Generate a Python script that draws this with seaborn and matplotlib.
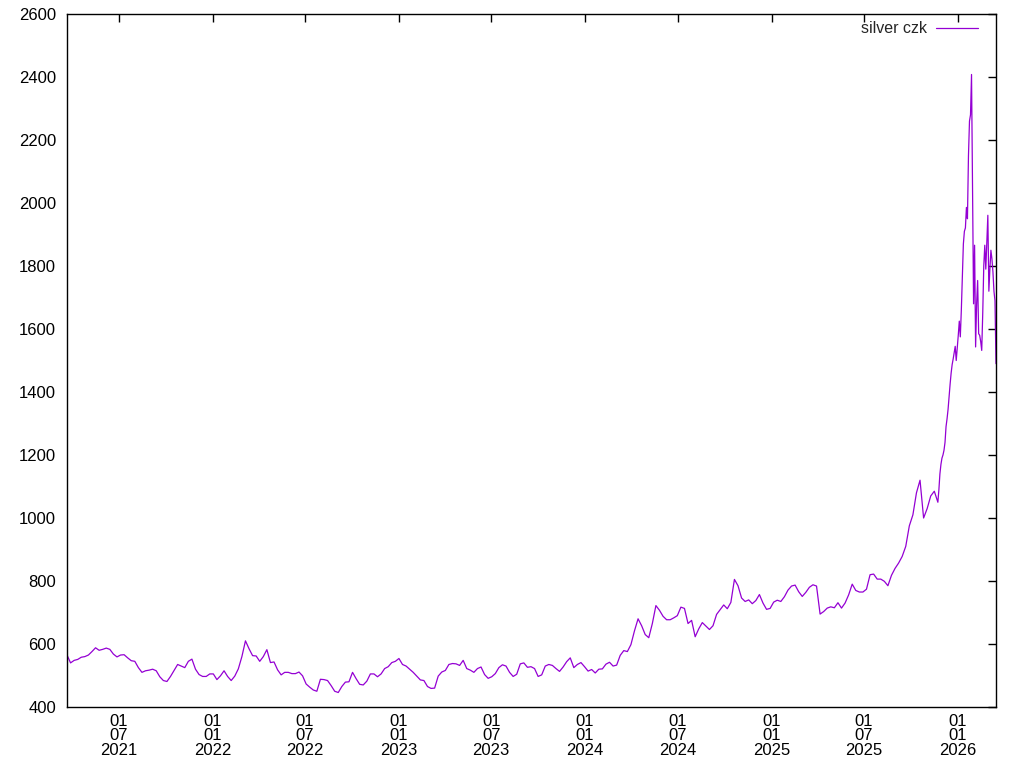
import numpy as np
import pandas as pd
import matplotlib
matplotlib.use('Agg')
import matplotlib.pyplot as plt
import matplotlib.dates as mdates
import seaborn as sns

series_label = 'silver czk'
weekly_start = '2021-03-21'
weekly_values = [
    565, 540, 548, 551, 558, 560, 565, 576, 588, 580,
    583, 587, 583, 568, 559, 565, 566, 556, 547, 545,
    525, 510, 515, 517, 520, 515, 496, 484, 481, 497,
    516, 535, 530, 525, 545, 552, 520, 503, 497, 497,
    505, 505, 487, 499, 515, 497, 484, 498, 521, 560,
    610, 585, 563, 562, 545, 560, 582, 541, 543, 518,
    502, 510, 510, 506, 506, 511, 499, 473, 463, 454,
    450, 488, 487, 484, 468, 450, 446, 465, 479, 480,
    510, 490, 472, 470, 482, 505, 505, 496, 505, 522,
    528, 541, 545, 554, 535, 530, 520, 510, 498, 486,
    484, 465, 459, 460, 498, 511, 516, 535, 538, 537,
    532, 548, 522, 517, 510, 522, 527, 503, 491, 496,
    506, 525, 534, 530, 510, 497, 504, 537, 540, 526,
    528, 522, 497, 502, 530, 535, 532, 522, 513, 527,
    544, 556, 525, 535, 541, 528, 514, 519, 508, 520,
    521, 536, 542, 530, 533, 564, 579, 576, 598, 642,
    680, 658, 630, 620, 665, 722, 707, 688, 677, 677,
    683, 690, 717, 713, 665, 675, 623, 648, 668, 657,
    646, 658, 694, 709, 724, 712, 732, 805, 785, 746,
    735, 740, 728, 738, 757, 730, 710, 713, 733, 739,
    735, 750, 771, 784, 787, 766, 751, 764, 780, 788,
    784, 695, 703, 714, 718, 715, 731, 714, 730, 756,
    790, 770, 765, 765, 774, 820, 822, 806, 806, 799,
    785, 818, 840, 857, 878, 910, 975, 1010, 1080, 1120,
    1000, 1030, 1070, 1085, 1050,
]
recent_values = [
    1090, 1140, 1170, 1190, 1200, 1215, 1240, 1290, 1315, 1345,
    1385, 1425, 1460, 1487, 1505, 1525, 1545, 1500, 1540, 1580,
    1625, 1575, 1660, 1770, 1870, 1910, 1921, 1986, 1950, 2150,
    2260, 2280, 2408, 2050, 1680, 1866, 1543, 1680, 1754, 1585,
    1580, 1560, 1532, 1650, 1800, 1866, 1790, 1880, 1961, 1720,
    1790, 1850, 1823, 1781, 1720, 1690, 1490,
]
y_ticks = [400, 600, 800, 1000, 1200, 1400, 1600, 1800, 2000, 2200, 2400, 2600]

weekly_dates = pd.date_range(weekly_start, periods=len(weekly_values), freq='7D')
recent_dates = pd.date_range(weekly_dates[-1] + pd.Timedelta(days=2),
                             periods=len(recent_values), freq='2D')
df = pd.DataFrame({
    'date': list(weekly_dates) + list(recent_dates),
    'price': weekly_values + recent_values,
})

sns.set_style('white')
plt.rcParams['font.family'] = ['Liberation Sans', 'DejaVu Sans']

fig = plt.figure(figsize=(10.24, 7.68), dpi=100)
ax = fig.add_axes([67 / 1024, 61 / 768, 929 / 1024, 693 / 768])
sns.lineplot(data=df, x='date', y='price', color='#9400D3', linewidth=0.9,
             label=series_label, ax=ax)

ax.set_xlim(df['date'].iloc[0], df['date'].iloc[-1])
ax.set_ylim(y_ticks[0], y_ticks[-1])
ax.set_yticks(y_ticks)
ax.xaxis.set_major_locator(mdates.MonthLocator(bymonth=[1, 7]))
ax.xaxis.set_major_formatter(mdates.DateFormatter('%d\n%m\n%Y'))
ax.set_xlabel('')
ax.set_ylabel('')
ax.tick_params(direction='in', length=6, width=1, top=True, right=True,
               labelsize=12, colors='black')
ax.tick_params(axis='y', pad=8)
ax.tick_params(axis='x', pad=5)
plt.setp(ax.get_xticklabels(), linespacing=0.95)
for s in ax.spines.values():
    s.set_linewidth(1)
    s.set_color('black')

ax.legend(loc='upper right', bbox_to_anchor=(0.9878, 0.9986), frameon=False,
          markerfirst=False, handlelength=2.65, fontsize=11.5,
          borderaxespad=0, handletextpad=0.55)

fig.savefig('out.png', dpi=100)
